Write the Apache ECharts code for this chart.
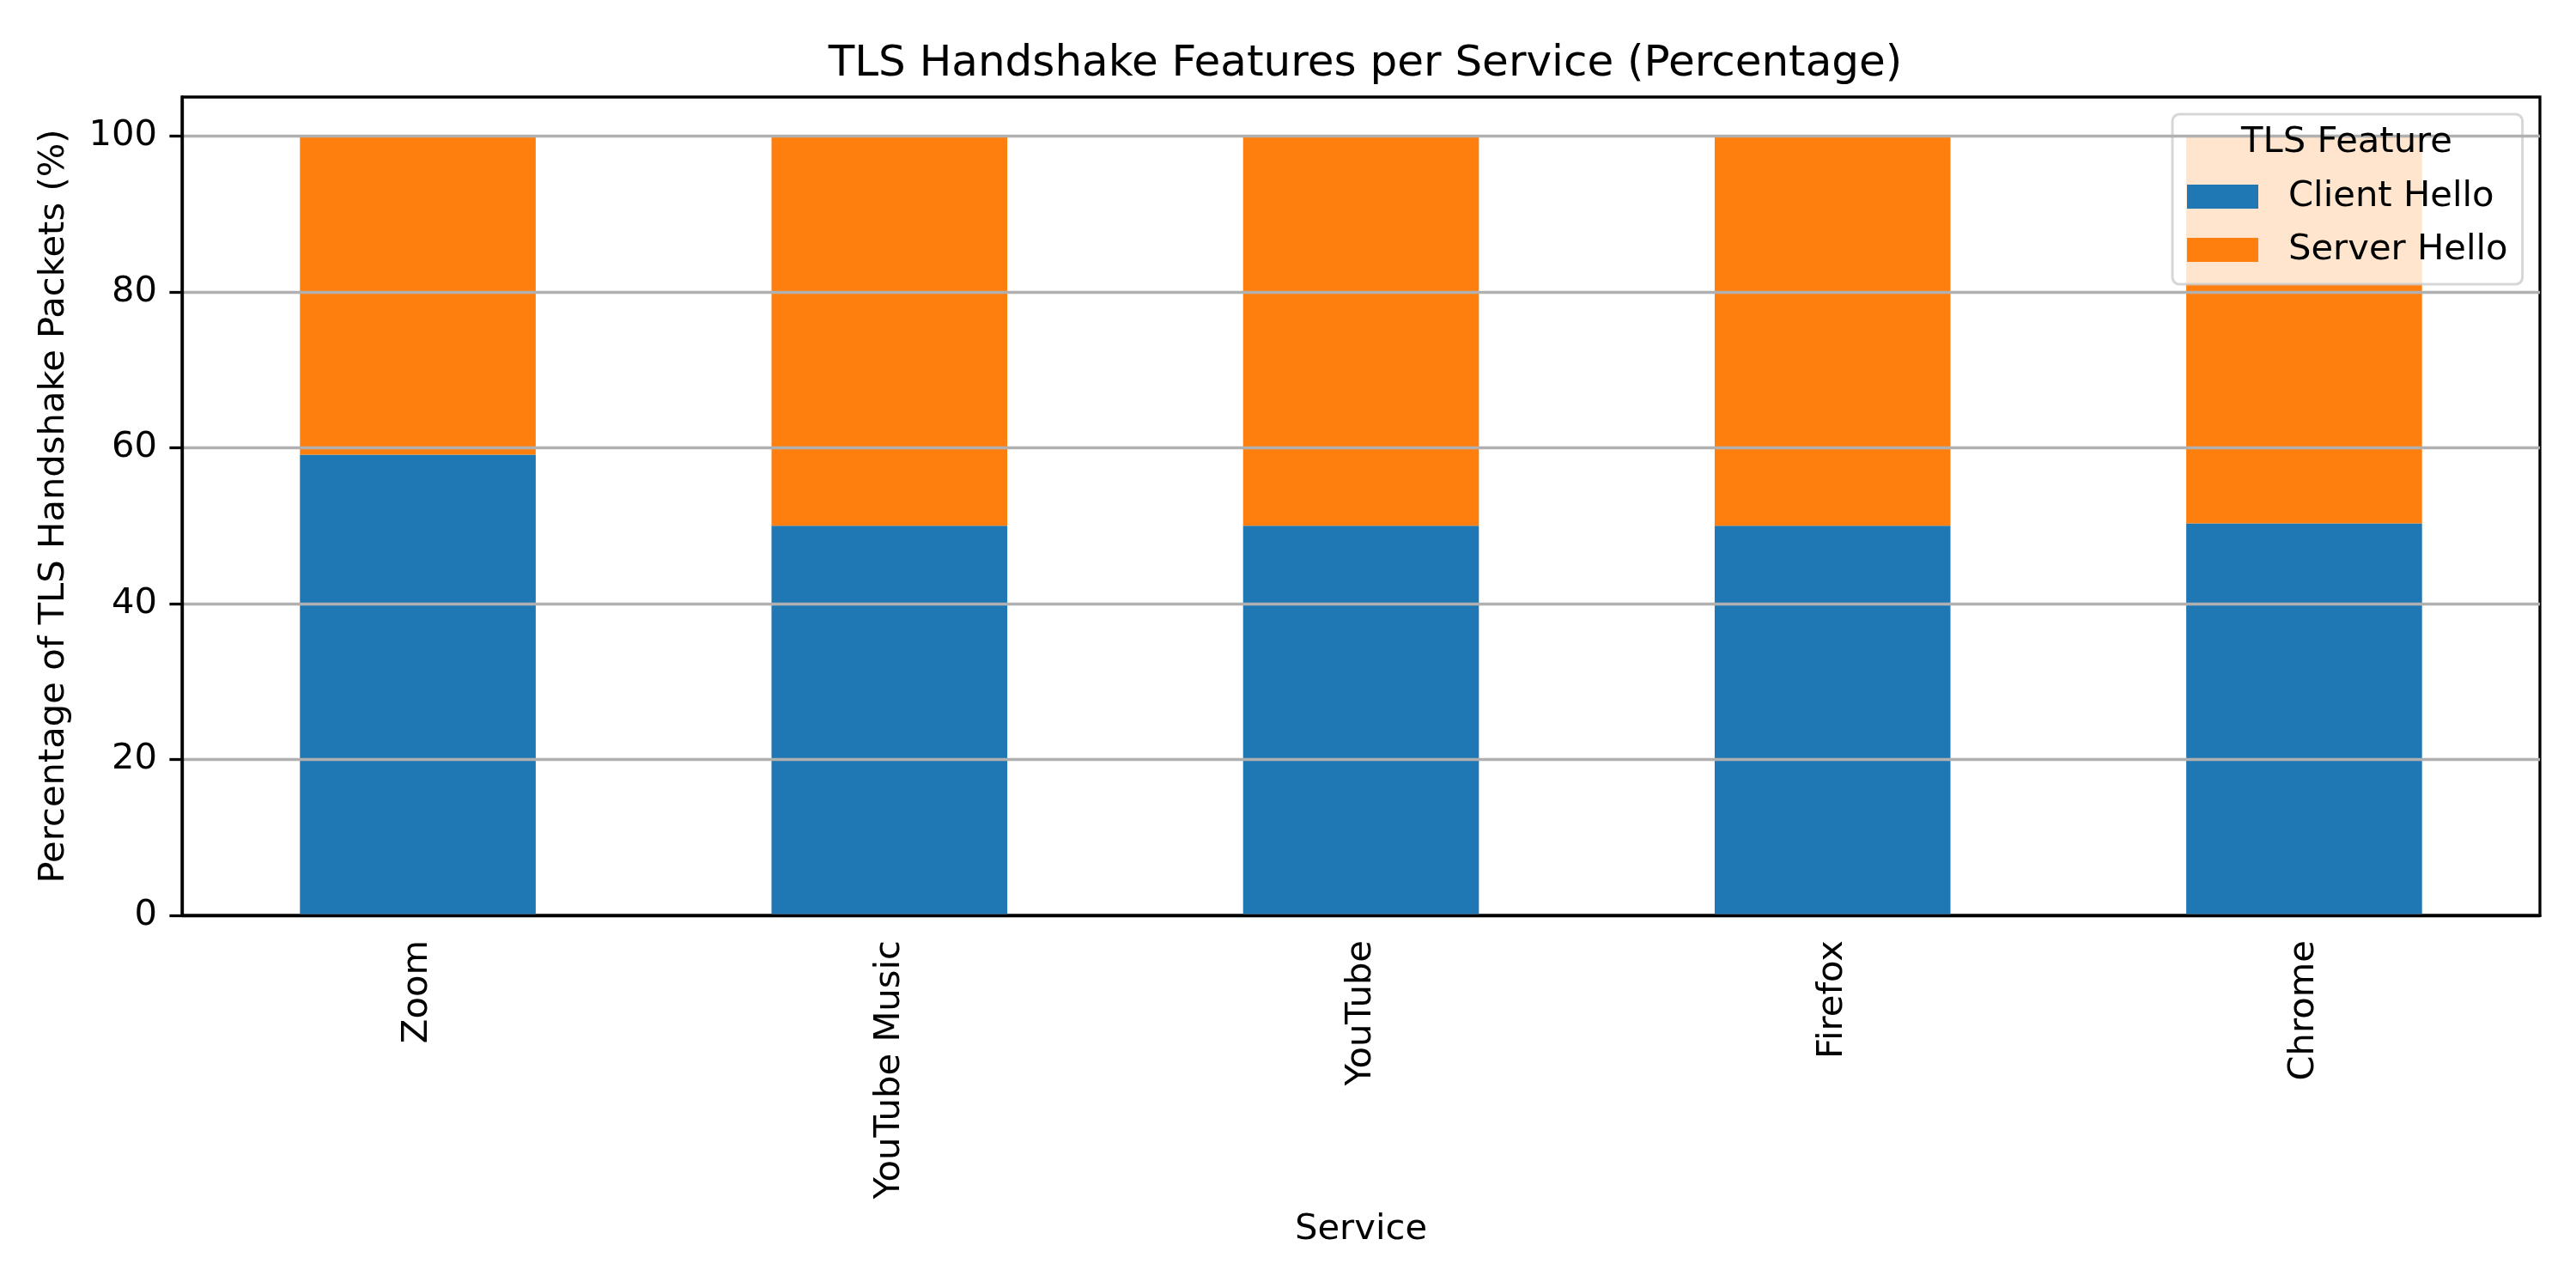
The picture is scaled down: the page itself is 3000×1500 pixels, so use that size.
<!DOCTYPE html>
<html>
<head>
<meta charset="utf-8">
<script src="https://cdn.jsdelivr.net/npm/echarts@6/dist/echarts.min.js"></script>
<style>
  html, body { margin: 0; padding: 0; background: #fff; }
  #chart { width: 3000px; height: 1500px; }
</style>
</head>
<body>
<div id="chart"></div>
<script>
// data
const services = ['Zoom', 'YouTube Music', 'YouTube', 'Firefox', 'Chrome'];
const clientHello = [59.1, 50.0, 50.0, 50.0, 50.3];
const serverHello = [40.9, 50.0, 50.0, 50.0, 49.7];
const yTicks = [0, 20, 40, 60, 80, 100];

const font = 'DejaVu Sans';
const fs = 41.7; // 10pt @ 300dpi

const myChart = echarts.init(document.getElementById('chart'), null, {renderer: 'canvas'});

const option = {
  animation: false,
  backgroundColor: '#fff',
  title: [
    {
      text: 'TLS Handshake Features per Service (Percentage)',
      left: 1585,
      top: 44,
      textAlign: 'center',
      textStyle: {fontFamily: font, fontSize: 50, fontWeight: 'normal', color: '#000', lineHeight: 52}
    },
    {
      // legend title
      text: 'TLS Feature',
      left: 2733,
      top: 145,
      textAlign: 'center',
      padding: 0,
      textStyle: {fontFamily: font, fontSize: fs, fontWeight: 'normal', color: '#000', lineHeight: 42}
    }
  ],
  legend: {
    orient: 'vertical',
    left: 2530,
    top: 133,
    padding: [75, 17, 19, 17],
    itemWidth: 83,
    itemHeight: 28,
    itemGap: 20,
    backgroundColor: 'rgba(255,255,255,0.8)',
    borderColor: 'rgba(204,204,204,0.8)',
    borderWidth: 3,
    borderRadius: 8,
    icon: 'rect',
    textStyle: {fontFamily: font, fontSize: fs, color: '#000', lineHeight: 42, padding: [0, 0, 0, 30]},
    data: ['Client Hello', 'Server Hello']
  },
  grid: {
    left: 212,
    right: 42,
    top: 113,
    bottom: 434,
    show: true,
    borderColor: '#000',
    borderWidth: 3.3,
    backgroundColor: 'transparent'
  },
  xAxis: {
    type: 'category',
    data: services,
    z: 6,
    name: 'Service',
    nameLocation: 'middle',
    nameGap: 345,
    nameTextStyle: {fontFamily: font, fontSize: fs, color: '#000'},
    axisLine: {lineStyle: {color: '#000', width: 3.3}},
    axisTick: {alignWithLabel: true, length: 14.6, lineStyle: {color: '#000', width: 3.3}},
    axisLabel: {rotate: 90, margin: 29, fontFamily: font, fontSize: fs, color: '#000'},
    splitLine: {show: false}
  },
  yAxis: {
    type: 'value',
    min: 0,
    max: 105,
    interval: 20,
    z: 5,
    name: 'Percentage of TLS Handshake Packets (%)',
    nameLocation: 'middle',
    nameGap: 128,
    nameTextStyle: {fontFamily: font, fontSize: fs, color: '#000'},
    axisLine: {show: true, lineStyle: {color: '#000', width: 3.3}},
    axisTick: {show: true, length: 14.6, lineStyle: {color: '#000', width: 3.3}, customValues: yTicks},
    axisLabel: {margin: 29, fontFamily: font, fontSize: fs, color: '#000', customValues: yTicks},
    splitLine: {show: true, lineStyle: {color: '#b0b0b0', width: 3.3}}
  },
  series: [
    {
      name: 'Client Hello',
      type: 'bar',
      stack: 'tls',
      barWidth: '50%',
      itemStyle: {color: '#1f77b4'},
      data: clientHello
    },
    {
      name: 'Server Hello',
      type: 'bar',
      stack: 'tls',
      barWidth: '50%',
      itemStyle: {color: '#ff7f0e'},
      data: serverHello
    }
  ]
};

myChart.setOption(option);
</script>
</body>
</html>
